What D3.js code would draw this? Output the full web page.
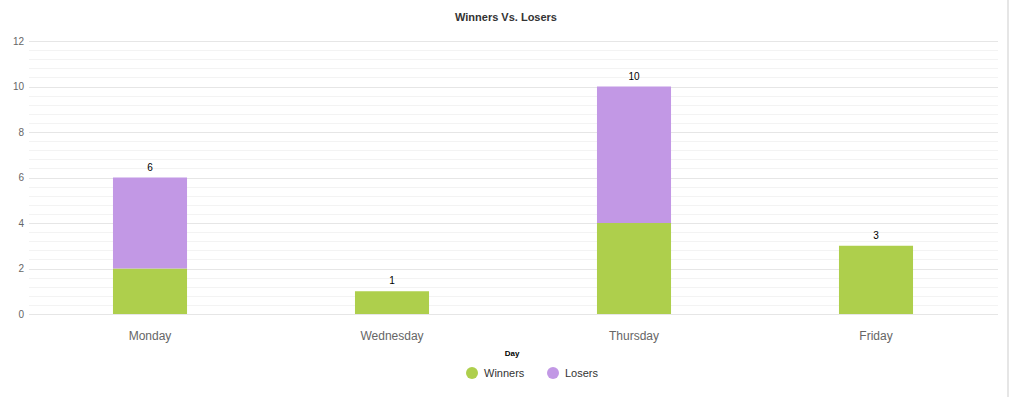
<!DOCTYPE html>
<html>
<head>
<meta charset="utf-8">
<script src="https://cdn.jsdelivr.net/npm/d3@7"></script>
<style>
  body { margin: 0; background: #fff; font-family: "Liberation Sans", Arial, sans-serif; }
  svg { display: block; }
</style>
</head>
<body>
<svg id="chart" width="1012" height="397"></svg>
<script>
const days = ["Monday", "Wednesday", "Thursday", "Friday"];
const winners = [2, 1, 4, 3];
const losers = [4, 0, 6, 0];
const seriesNames = ["Winners", "Losers"];
const yTicks = [0, 2, 4, 6, 8, 10, 12];

const colors = ["#aecf4c", "#c298e5"];
const height = 397;

const svg = d3.select("#chart");

// right edge border
svg.append("rect")
  .attr("x", 1007).attr("y", 0).attr("width", 2).attr("height", height)
  .attr("fill", "#e6e6e6");

const x = d3.scaleBand().domain(days).range([29, 997]).padding(0);
const y = d3.scaleLinear().domain([0, 12]).range([314, 41]);

// minor grid
svg.append("g")
  .selectAll("line")
  .data(d3.range(0, 12.001, 0.4).filter(v => Math.abs(v / 2 - Math.round(v / 2)) > 0.01))
  .join("line")
  .attr("x1", 29).attr("x2", 998)
  .attr("y1", d => Math.round(y(d)) + 0.5).attr("y2", d => Math.round(y(d)) + 0.5)
  .attr("stroke", "#f3f3f3");

// major grid
svg.append("g")
  .selectAll("line")
  .data(yTicks)
  .join("line")
  .attr("x1", 29).attr("x2", 998)
  .attr("y1", d => Math.round(y(d)) + 0.5).attr("y2", d => Math.round(y(d)) + 0.5)
  .attr("stroke", "#e6e6e6");

// y axis labels
svg.append("g")
  .attr("transform", "translate(24,0)")
  .call(d3.axisLeft(y).tickValues(yTicks).tickSize(0).tickPadding(0))
  .call(g => g.select(".domain").remove())
  .selectAll("text")
  .attr("fill", "#666")
  .style("font-size", "10px")
  .style("font-family", "Liberation Sans, Arial, sans-serif");

// stacked bars
const stackData = days.map((d, i) => ({ day: d, Winners: winners[i], Losers: losers[i] }));
const stacked = d3.stack().keys(seriesNames)(stackData);
const barW = x.bandwidth() * 0.306;

svg.append("g")
  .selectAll("g")
  .data(stacked)
  .join("g")
  .attr("fill", (d, i) => colors[i])
  .selectAll("rect")
  .data(d => d.filter(p => p[1] - p[0] > 0))
  .join("rect")
  .attr("x", d => x(d.data.day) + x.bandwidth() / 2 - barW / 2)
  .attr("width", barW)
  .attr("y", d => y(d[1]))
  .attr("height", d => y(d[0]) - y(d[1]));

// totals
svg.append("g")
  .selectAll("text")
  .data(stackData)
  .join("text")
  .attr("x", d => x(d.day) + x.bandwidth() / 2)
  .attr("y", d => y(d.Winners + d.Losers) - 7)
  .attr("text-anchor", "middle")
  .style("font-size", "10px")
  .attr("fill", "#000")
  .text(d => d.Winners + d.Losers);

// x axis labels
svg.append("g")
  .attr("transform", "translate(0,314)")
  .call(d3.axisBottom(x).tickSize(0).tickPadding(17))
  .call(g => g.select(".domain").remove())
  .selectAll("text")
  .attr("fill", "#666")
  .style("font-size", "12px")
  .style("font-family", "Liberation Sans, Arial, sans-serif");

// title
svg.append("text")
  .attr("x", 506).attr("y", 21)
  .attr("text-anchor", "middle")
  .style("font-size", "11px").style("font-weight", "bold")
  .attr("fill", "#333")
  .text("Winners Vs. Losers");

// axis title
svg.append("text")
  .attr("x", 512).attr("y", 356)
  .attr("text-anchor", "middle")
  .style("font-size", "8px").style("font-weight", "bold")
  .attr("fill", "#000")
  .text("Day");

// legend
const legend = svg.append("g")
  .selectAll("g")
  .data(seriesNames)
  .join("g")
  .attr("transform", (d, i) => `translate(${472 + i * 81},373)`);
legend.append("circle").attr("r", 6).attr("fill", (d, i) => colors[i]);
legend.append("text")
  .attr("x", 12).attr("y", 4)
  .style("font-size", "11px")
  .attr("fill", "#333")
  .text(d => d);
</script>
</body>
</html>
